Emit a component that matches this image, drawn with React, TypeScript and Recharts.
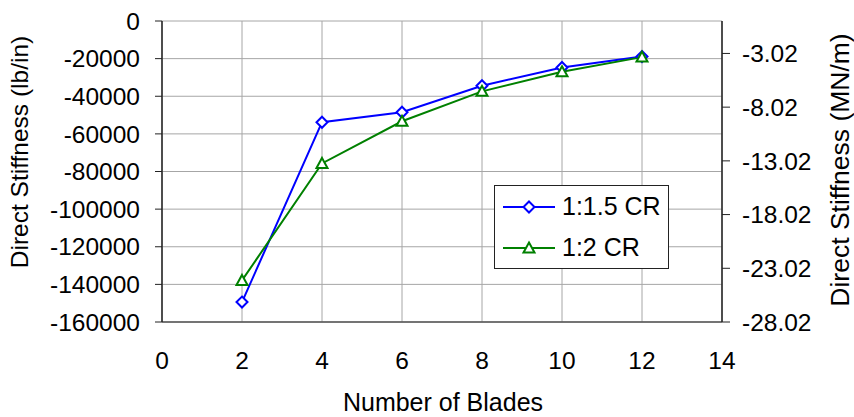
import {
  LineChart,
  Line,
  XAxis,
  YAxis,
  CartesianGrid,
  Legend,
} from 'recharts'

const blades = [2, 4, 6, 8, 10, 12]
const stiffnessCr15 = [-149400, -53800, -48500, -34400, -24700, -18900]
const stiffnessCr2 = [-137900, -75700, -53300, -37400, -27000, -19200]

const xTicks = [0, 2, 4, 6, 8, 10, 12, 14]
const leftTicks = [0, -20000, -40000, -60000, -80000, -100000, -120000, -140000, -160000]
const rightTicks = [-28.02, -23.02, -18.02, -13.02, -8.02, -3.02]

const BLUE = '#0000ff'
const GREEN = '#008000'
const FONT = '"Liberation Sans", Arial, sans-serif'
const noLabel = () => ''

const data = blades.map((b, i) => ({
  blades: b,
  cr15: stiffnessCr15[i],
  cr2: stiffnessCr2[i],
}))

function Diamond({ cx, cy, color }: { cx: number; cy: number; color: string }) {
  const r = 5.5
  return (
    <polygon
      points={`${cx},${cy - r} ${cx + r},${cy} ${cx},${cy + r} ${cx - r},${cy}`}
      fill="#fff"
      stroke={color}
      strokeWidth={2}
    />
  )
}

function Triangle({ cx, cy, color }: { cx: number; cy: number; color: string }) {
  return (
    <polygon
      points={`${cx},${cy - 5.5} ${cx + 5.5},${cy + 4.5} ${cx - 5.5},${cy + 4.5}`}
      fill="#fff"
      stroke={color}
      strokeWidth={2}
    />
  )
}

const diamondDot = (props: any) =>
  props.cx == null ? <g key={props.key} /> : <Diamond key={props.key} cx={props.cx} cy={props.cy} color={BLUE} />
const triangleDot = (props: any) =>
  props.cx == null ? <g key={props.key} /> : <Triangle key={props.key} cx={props.cx} cy={props.cy} color={GREEN} />

function BoxLegend({ payload }: any) {
  return (
    <div
      style={{
        border: '1px solid #222',
        background: '#fff',
        width: 173,
        height: 82,
        boxSizing: 'content-box',
        fontFamily: FONT,
        fontSize: 25,
        color: '#000',
      }}
    >
      {(payload || []).map((entry: any) => (
        <div key={entry.value} style={{ display: 'flex', alignItems: 'center', height: 41 }}>
          <svg width={62} height={20} style={{ marginLeft: 8 }}>
            <line x1={0} y1={10} x2={52} y2={10} stroke={entry.color} strokeWidth={2} />
            {entry.dataKey === 'cr15' ? (
              <Diamond cx={26} cy={10} color={entry.color} />
            ) : (
              <Triangle cx={26} cy={10} color={entry.color} />
            )}
          </svg>
          <span style={{ marginLeft: -3 }}>{entry.value}</span>
        </div>
      ))}
    </div>
  )
}

const tickStyle = { fontSize: 24.5, fill: '#000', fontFamily: FONT }

export default function App() {
  return (
    <div style={{ position: 'absolute', left: 0, top: 0, background: '#fff' }}>
      <LineChart width={854} height={417} data={data} margin={{ top: 21, right: 0, bottom: 0, left: 0 }}>
        <CartesianGrid xAxisId="bottom" yAxisId="left" stroke="#a6a6a6" strokeWidth={1} />

        <XAxis
          xAxisId="bottom"
          dataKey="blades"
          type="number"
          domain={[0, 14]}
          allowDataOverflow
          ticks={xTicks}
          interval={0}
          height={95}
          tickLine={false}
          tickSize={0}
          tickMargin={30}
          axisLine={{ stroke: '#555', strokeWidth: 1.5 }}
          tick={tickStyle}
          label={{
            content: () => (
              <text x={443} y={411} textAnchor="middle" fontSize={25} fontFamily={FONT} fill="#000">
                Number of Blades
              </text>
            ),
          }}
        />
        {/* frame ticks along the top edge, crossing the border */}
        <XAxis
          xAxisId="top"
          orientation="top"
          type="number"
          domain={[0, 14]}
          allowDataOverflow
          ticks={xTicks}
          interval={0}
          height={0}
          tickSize={7}
          tickFormatter={noLabel}
          axisLine={{ stroke: '#222', strokeWidth: 1.5 }}
          tickLine={{ stroke: '#222' }}
        />
        <XAxis
          xAxisId="topIn"
          orientation="top"
          mirror
          type="number"
          domain={[0, 14]}
          allowDataOverflow
          ticks={xTicks}
          interval={0}
          height={0}
          tickSize={7}
          tickFormatter={noLabel}
          axisLine={false}
          tickLine={{ stroke: '#222' }}
        />

        <YAxis
          yAxisId="left"
          type="number"
          domain={[-160000, 0]}
          allowDataOverflow
          ticks={leftTicks}
          interval={0}
          width={162}
          tickSize={7}
          tickMargin={15}
          axisLine={{ stroke: '#222', strokeWidth: 1.5 }}
          tickLine={{ stroke: '#222' }}
          tick={tickStyle}
          label={{
            content: () => (
              <text
                x={27.5}
                y={152}
                transform="rotate(-90 27.5 152)"
                textAnchor="middle"
                fontSize={24.5}
                fontFamily={FONT}
                fill="#000"
              >
                Direct Stiffness (lb/in)
              </text>
            ),
          }}
        />
        <YAxis
          yAxisId="leftIn"
          mirror
          type="number"
          domain={[-160000, 0]}
          allowDataOverflow
          ticks={leftTicks}
          interval={0}
          width={0}
          tickSize={5}
          tickFormatter={noLabel}
          axisLine={false}
          tickLine={{ stroke: '#222' }}
        />
        {/* same stiffness in MN/m: -160000 lb/in = -28.02 MN/m */}
        <YAxis
          yAxisId="right"
          orientation="right"
          type="number"
          domain={[-28.02, 0]}
          allowDataOverflow
          ticks={rightTicks}
          interval={0}
          width={132}
          tickSize={8}
          tickMargin={12}
          tickFormatter={(v: number) => v.toFixed(2)}
          axisLine={{ stroke: '#222', strokeWidth: 1.5 }}
          tickLine={{ stroke: '#222' }}
          tick={tickStyle}
          label={{
            content: () => (
              <text
                x={849}
                y={170}
                transform="rotate(-90 849 170)"
                textAnchor="middle"
                fontSize={26.5}
                fontFamily={FONT}
                fill="#000"
              >
                Direct Stiffness (MN/m)
              </text>
            ),
          }}
        />
        <YAxis
          yAxisId="rightIn"
          orientation="right"
          mirror
          type="number"
          domain={[-28.02, 0]}
          allowDataOverflow
          ticks={rightTicks}
          interval={0}
          width={0}
          tickSize={8}
          tickFormatter={noLabel}
          axisLine={false}
          tickLine={{ stroke: '#222' }}
        />

        <Line
          xAxisId="bottom"
          yAxisId="left"
          dataKey="cr15"
          name="1:1.5 CR"
          stroke={BLUE}
          strokeWidth={2}
          dot={diamondDot}
          activeDot={false}
          isAnimationActive={false}
        />
        <Line
          xAxisId="bottom"
          yAxisId="left"
          dataKey="cr2"
          name="1:2 CR"
          stroke={GREEN}
          strokeWidth={2}
          dot={triangleDot}
          activeDot={false}
          isAnimationActive={false}
        />

        <Legend
          layout="vertical"
          align="center"
          verticalAlign="middle"
          content={BoxLegend}
          wrapperStyle={{ left: 494, top: 185, width: 175, height: 84 }}
        />
      </LineChart>
    </div>
  )
}
